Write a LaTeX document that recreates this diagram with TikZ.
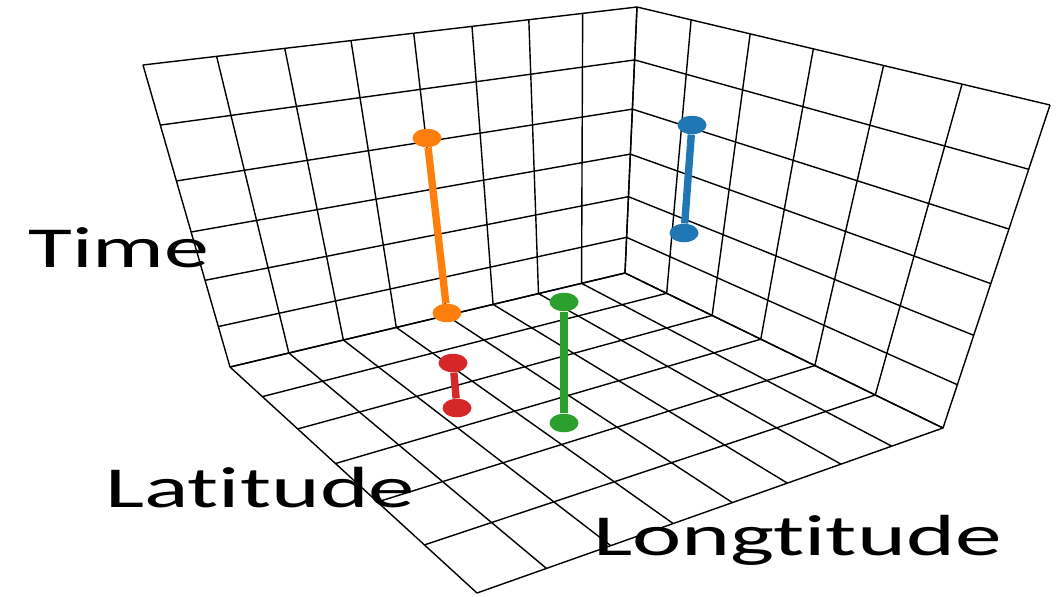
\documentclass[tikz,border=0pt]{standalone}
\usepackage{fontspec}
\setmainfont{Carlito}[RawFeature={-liga;-clig;-dlig}]
\usepackage{graphicx}
\usetikzlibrary{calc,shapes.geometric}
\definecolor{Orange}{HTML}{FF7F0E}
\definecolor{Blue}{HTML}{1F77B4}
\definecolor{Green}{HTML}{2CA02C}
\definecolor{Red}{HTML}{D62728}

\begin{document}
\begin{tikzpicture}[x=0.02cm,y=-0.02cm,
    gline/.style={draw=black,line width=0.8pt,line join=round},
    mk/.style={ellipse,inner sep=0pt,minimum width=5.8mm,minimum height=3.7mm,fill=#1},
    seg/.style={line width=4.2pt,draw=#1},
    lbl/.style={font=\fontsize{33}{38}\selectfont,inner sep=0pt}]
  \useasboundingbox (0,0) rectangle (1061,596);
  % corners of the box
  \coordinate (lt) at (143,65); \coordinate (ct) at (637,7); \coordinate (rt) at (1050,105);
  \coordinate (lb) at (230,367); \coordinate (cb) at (625,273); \coordinate (rb) at (943,428);
  \coordinate (fr) at (477,593);
  % latitude, longitude and time lines
  \foreach \u in {0,.149,.287,.421,.548,.666,.781,.89,1}{
    \draw[gline] ($(lt)!\u!(ct)$) -- ($(lb)!\u!(cb)$) -- ($(fr)!\u!(rb)$);}
  \foreach \v in {0,.131,.274,.427,.597,.787,1}{
    \draw[gline] ($(lb)!\v!(fr)$) -- ($(cb)!\v!(rb)$) -- ($(ct)!\v!(rt)$);}
  \foreach \h in {0,.199,.384,.553,.713,.866,1}{
    \draw[gline] ($(lt)!\h!(lb)$) -- ($(ct)!\h!(cb)$) -- ($(rt)!\h!(rb)$);}
  % trajectories
  \node[mk=Orange] (o1) at (427,138) {}; \node[mk=Orange] (o2) at (447,313) {};
  \node[mk=Red] (r1) at (453,363) {}; \node[mk=Red] (r2) at (457,408) {};
  \node[mk=Green] (g1) at (564,302) {}; \node[mk=Green] (g2) at (564,423) {};
  \node[mk=Blue] (b1) at (692,125) {}; \node[mk=Blue] (b2) at (684,233) {};
  \draw[seg=Orange] (o1) -- (o2); \draw[seg=Red] (r1) -- (r2);
  \draw[seg=Green] (g1) -- (g2); \draw[seg=Blue] (b1) -- (b2);
  % axis labels
  \node[lbl,anchor=base west] (time) at (28,267) {\scalebox{1.55}[1]{Time}};
  \node[lbl,anchor=base west] (lat) at (105,507) {\scalebox{1.6}[1]{Lat\kern0pt itude}};
  \node[lbl,anchor=base west] (lon) at (593,555) {\scalebox{1.61}[1]{Longt\kern0pt it\kern0pt ude}};
\end{tikzpicture}
\end{document}
